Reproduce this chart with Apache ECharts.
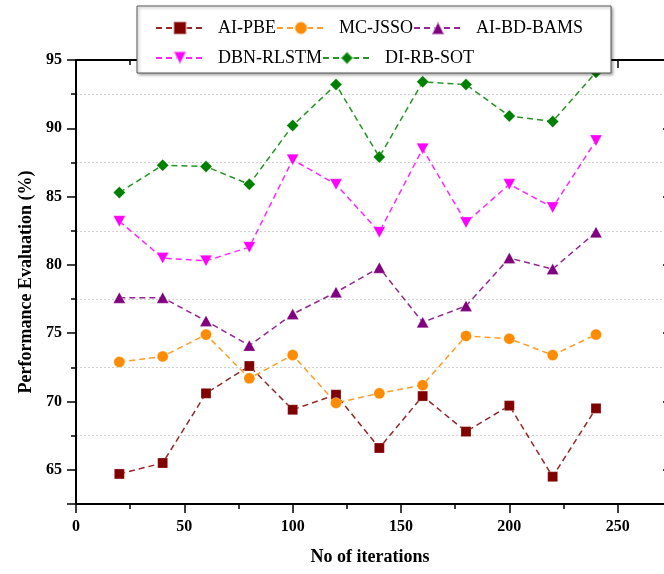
<!DOCTYPE html>
<html>
<head>
<meta charset="utf-8">
<script src="https://cdn.jsdelivr.net/npm/echarts@6/dist/echarts.min.js"></script>
<style>
html,body{margin:0;padding:0;background:#fff;overflow:hidden;width:664px;height:574px;}
#c{width:726px;height:574px;}
</style>
</head>
<body>
<div id="c"></div>
<script>
const iterations = [20, 40, 60, 80, 100, 120, 140, 160, 180, 200, 220, 240];
const aiPBE     = [64.7, 65.5, 70.6, 72.6, 69.4, 70.5, 66.6, 70.4, 67.8, 69.7, 64.5, 69.5];
const mcJSSO    = [72.9, 73.3, 74.9, 71.7, 73.4, 69.9, 70.6, 71.2, 74.8, 74.6, 73.4, 74.9];
const aiBDBAMS  = [77.6, 77.6, 75.9, 74.1, 76.4, 78.0, 79.8, 75.8, 77.0, 80.5, 79.7, 82.4];
const dbnRLSTM  = [83.2, 80.5, 80.3, 81.3, 87.7, 85.9, 82.4, 88.5, 83.1, 85.9, 84.2, 89.1];
const diRBSOT   = [85.3, 87.3, 87.2, 85.9, 90.2, 93.2, 87.9, 93.4, 93.2, 90.9, 90.5, 94.1];
const seriesNames = ['AI-PBE', 'MC-JSSO', 'AI-BD-BAMS', 'DBN-RLSTM', 'DI-RB-SOT'];
const xTicks = {min: 0, max: 300, interval: 50};
const yRange = {min: 62.5, max: 95, interval: 5};

const font = 'Liberation Serif';
const pair = arr => arr.map((v, i) => [iterations[i], v]);

function mk(name, data, color, symbol, size, rotate) {
  return {
    name: name, type: 'line', yAxisIndex: 0, xAxisIndex: 0,
    data: pair(data),
    symbol: symbol, symbolSize: size, symbolRotate: rotate || 0,
    lineStyle: {color: color, width: 1.5, type: [6, 4], opacity: 0.85},
    itemStyle: {color: color, borderColor: 'rgba(255,255,255,0.5)', borderWidth: 0.5},
    emphasis: {disabled: true},
    z: 3
  };
}

const chart = echarts.init(document.getElementById('c'), null, {renderer: 'canvas'});
const tickAxisY = (pos, inside, showLabel, name) => ({
  type: 'value', position: pos,
  min: -yRange.max, max: -yRange.min, interval: yRange.interval, inverse: true,
  offset: pos === 'right' ? -54 : 0,
  axisLine: {show: true, onZero: false, lineStyle: {color: '#000', width: 2}},
  axisTick: {show: true, inside: inside, length: 9, lineStyle: {color: '#000', width: 1.5}},
  minorTick: {show: true, splitNumber: 2, length: 5, lineStyle: {color: '#000', width: 1.5}},
  axisLabel: {show: showLabel, margin: 14, fontFamily: font, fontWeight: 'bold', fontSize: 16, color: '#000',
    formatter: v => (Math.abs(v) % 5 === 0 ? String(-v) : '')},
  splitLine: {show: false},
  name: name || '', nameLocation: 'middle', nameGap: 40,
  nameTextStyle: {fontFamily: font, fontWeight: 'bold', fontSize: 18, color: '#000'}
});

chart.setOption({
  animation: false,
  backgroundColor: '#fff',
  grid: {left: 76, top: 60, right: 0, bottom: 70, containLabel: false},
  legend: {
    data: seriesNames,
    left: 137, top: 6, width: 445,
    orient: 'horizontal',
    itemWidth: 48, itemHeight: 16, itemGap: 0,
    padding: [7, 28, 0, 18],
    backgroundColor: '#fff',
    borderColor: '#555', borderWidth: 1,
    shadowColor: 'rgba(0,0,0,0.35)', shadowBlur: 3, shadowOffsetX: 1.5, shadowOffsetY: 1.5,
    textStyle: {fontFamily: font, fontSize: 18, color: '#000', lineHeight: 30, padding: [0, 0, 0, 9]},
    z: 10
  },
  xAxis: [
    {
      type: 'value', position: 'bottom', min: xTicks.min, max: xTicks.max, interval: xTicks.interval,
      axisLine: {show: true, onZero: false, lineStyle: {color: '#000', width: 2}},
      axisTick: {show: true, inside: false, length: 9, lineStyle: {color: '#000', width: 1.5}},
      minorTick: {show: true, splitNumber: 2, length: 5, lineStyle: {color: '#000', width: 1.5}},
      axisLabel: {margin: 15, fontFamily: font, fontWeight: 'bold', fontSize: 16, color: '#000', showMaxLabel: false},
      splitLine: {show: false},
      name: 'No of iterations', nameLocation: 'middle', nameGap: 44,
      nameTextStyle: {fontFamily: font, fontWeight: 'bold', fontSize: 18, color: '#000', padding: [0, 62, 0, 0]}
    },
    {
      type: 'value', position: 'top', min: xTicks.min, max: xTicks.max, interval: xTicks.interval,
      axisLine: {show: true, onZero: false, lineStyle: {color: '#000', width: 2}},
      axisTick: {show: true, inside: true, length: 8, lineStyle: {color: '#000', width: 1.5}},
      minorTick: {show: true, splitNumber: 2, length: 5, lineStyle: {color: '#000', width: 1.5}},
      axisLabel: {show: false},
      splitLine: {show: false}
    }
  ],
  yAxis: [
    {
      type: 'value', position: 'left', min: yRange.min, max: yRange.max, interval: yRange.interval,
      axisLine: {show: false}, axisTick: {show: false}, axisLabel: {show: false},
      splitLine: {show: true, lineStyle: {color: '#d0d0d0', width: 1, type: [2, 2]}}
    },
    tickAxisY('left', false, true, 'Performance Evaluation (%)'),
    tickAxisY('right', true, false, '')
  ],
  series: [
    mk(seriesNames[0], aiPBE, '#800000', 'rect', 10),
    mk(seriesNames[1], mcJSSO, '#FF8C00', 'circle', 11),
    mk(seriesNames[2], aiBDBAMS, '#800080', 'triangle', [12, 11]),
    mk(seriesNames[3], dbnRLSTM, '#FF00FF', 'triangle', [12, 11], 180),
    mk(seriesNames[4], diRBSOT, '#008000', 'diamond', 12)
  ]
});
</script>
</body>
</html>
